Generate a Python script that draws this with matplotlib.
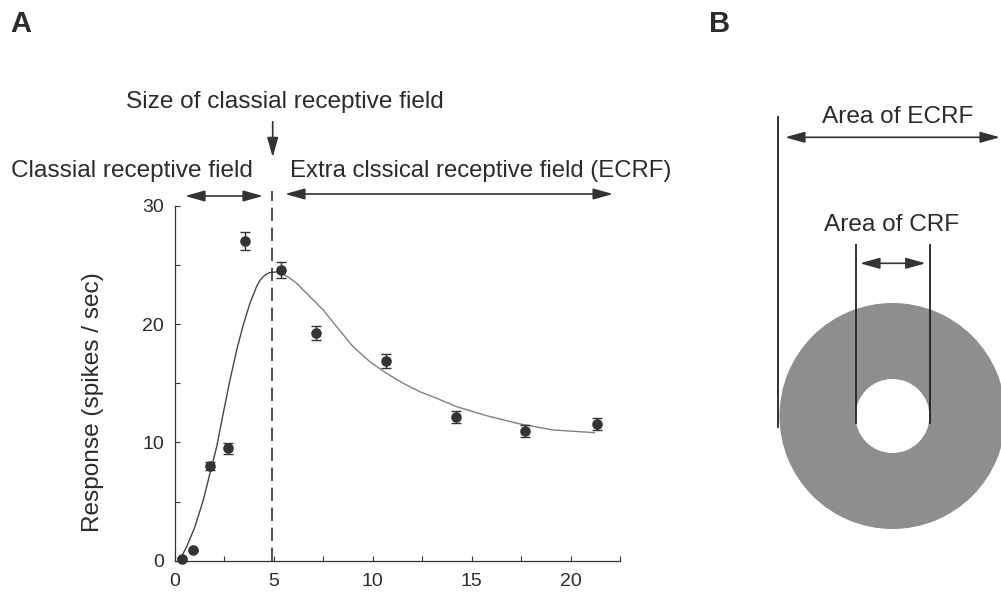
import matplotlib
matplotlib.use("Agg")
import matplotlib.pyplot as plt
from matplotlib.patches import Wedge
from matplotlib.ticker import MultipleLocator

plt.rcParams['font.family'] = ['Liberation Sans', 'DejaVu Sans']

# ---- data ----
stim_size = [0.34, 0.89, 1.77, 2.69, 3.55, 5.34, 7.12, 10.66, 14.19, 17.71, 21.35]
response = [0.15, 0.9, 8.0, 9.5, 27.0, 24.55, 19.25, 16.9, 12.15, 10.95, 11.55]
response_err = [0.1, 0.1, 0.3, 0.45, 0.78, 0.7, 0.62, 0.6, 0.5, 0.5, 0.5]

# fitted curve, rising part and falling part
fit_rise_x = [0.22, 0.59, 1.01, 1.43, 1.77, 2.11, 2.44, 2.78, 3.12, 3.45, 3.79,
              3.96, 4.12, 4.29, 4.46, 4.63, 4.80, 5.10]
fit_rise_y = [0.0, 1.18, 2.87, 5.13, 7.39, 9.64, 12.46, 15.27, 17.81, 19.92, 21.76,
              22.46, 23.16, 23.67, 24.0, 24.23, 24.35, 24.4]
fit_fall_x = [5.10, 5.39, 5.81, 6.15, 6.57, 6.99, 7.49, 8.17, 9.0, 9.85, 10.69,
              11.53, 12.37, 13.22, 14.23, 15.74, 17.42, 19.1, 21.2]
fit_fall_y = [24.4, 24.3, 23.87, 23.45, 22.74, 22.04, 21.2, 19.78, 18.09, 16.82,
              15.84, 15.0, 14.29, 13.73, 13.02, 12.26, 11.56, 11.05, 10.82]

crf_size = 4.9
x_ticks = [0, 5, 10, 15, 20]
y_ticks = [0, 10, 20, 30]

TXT = '#2b2b2b'
LINE = '#333333'
FS = 17.6

W, H = 1001, 594
fig = plt.figure(figsize=(W / 100, H / 100), dpi=100)

# overlay in pixel coordinates for annotations and panel B
ov = fig.add_axes([0, 0, 1, 1])
ov.set_xlim(0, W)
ov.set_ylim(H, 0)
ov.axis('off')

# ---- panel A main axes ----
x0, x1 = 175, 620
y0, y1 = 560.7, 205.7
ax = fig.add_axes([x0 / W, 1 - y0 / H, (x1 - x0) / W, (y0 - y1) / H])
ax.set_xlim(0, 22.5)
ax.set_ylim(0, 30)
for s in ['top', 'right']:
    ax.spines[s].set_visible(False)
for s in ['left', 'bottom']:
    ax.spines[s].set_color(LINE)
    ax.spines[s].set_linewidth(0.9)
ax.set_xticks(x_ticks)
ax.set_yticks(y_ticks)
ax.xaxis.set_minor_locator(MultipleLocator(2.5))
ax.yaxis.set_minor_locator(MultipleLocator(5))
ax.tick_params(which='both', direction='in', length=3.5, width=0.8, color=LINE,
               labelsize=14, labelcolor=TXT)
ax.tick_params(axis='x', pad=9)
ax.tick_params(axis='y', pad=8)
ax.patch.set_visible(False)

ax.plot(fit_rise_x, fit_rise_y, color='#444444', lw=1.0, zorder=2)
ax.plot(fit_fall_x, fit_fall_y, color='#808080', lw=1.0, zorder=2)
ax.errorbar(stim_size, response, yerr=response_err, fmt='o', color=LINE,
            ms=6.6, elinewidth=1.0, capsize=3.5, capthick=1.0, zorder=3,
            clip_on=False)
ax.plot([crf_size, crf_size], [0, 31.2], color=LINE, lw=1.2,
        linestyle=(0, (8, 4)), clip_on=False, zorder=2)

ax.set_ylabel('Response (spikes / sec)', fontsize=FS, color=TXT, va='center')
ax.yaxis.set_label_coords(-0.184, 0.448)

# ---- annotations ----
def arrow(xa, ya, xb, yb, both=True):
    ov.annotate('', xy=(xb, yb), xytext=(xa, ya),
                arrowprops=dict(arrowstyle=('<|-|>' if both else '-|>') +
                                ',head_length=1.0,head_width=0.28',
                                mutation_scale=12, lw=1.2, color=LINE,
                                shrinkA=0, shrinkB=0))

ov.text(10, 32, 'A', fontsize=21, fontweight='bold', color=TXT, va='baseline')
ov.text(709, 32, 'B', fontsize=21, fontweight='bold', color=TXT, va='baseline')

ov.text(126, 108, 'Size of classial receptive field', fontsize=FS, color=TXT,
        va='baseline', ha='left')
arrow(272.7, 121.7, 272.7, 157.3, both=False)
ov.text(11, 176.5, 'Classial receptive field', fontsize=FS, color=TXT,
        va='baseline', ha='left')
ov.text(290, 176.5, 'Extra clssical receptive field (ECRF)', fontsize=17.2,
        color=TXT, va='baseline', ha='left')
arrow(185, 196, 263, 196)
arrow(285, 194, 613, 194)

# ---- panel B ----
cx, cy = 892.5, 416
ov.add_patch(Wedge((cx, cy), 113, 0, 360, width=113 - 37, facecolor='#8e8e8e',
                   edgecolor='none', zorder=1))
ov.plot([778.3, 778.3], [117.3, 426.7], color='#222222', lw=1.3, zorder=3)
ov.plot([855.7, 855.7], [245, 423.3], color='#222222', lw=1.3, zorder=3)
ov.plot([930.3, 930.3], [245, 423.3], color='#222222', lw=1.3, zorder=3)
arrow(785, 137.3, 1000, 137.3)
arrow(860, 263.3, 925.7, 263.3)
ov.text(898, 123.3, 'Area of ECRF', fontsize=FS, color=TXT, ha='center',
        va='baseline')
ov.text(891.7, 230.7, 'Area of CRF', fontsize=FS, color=TXT, ha='center',
        va='baseline')

fig.savefig('out.png', dpi=100)
